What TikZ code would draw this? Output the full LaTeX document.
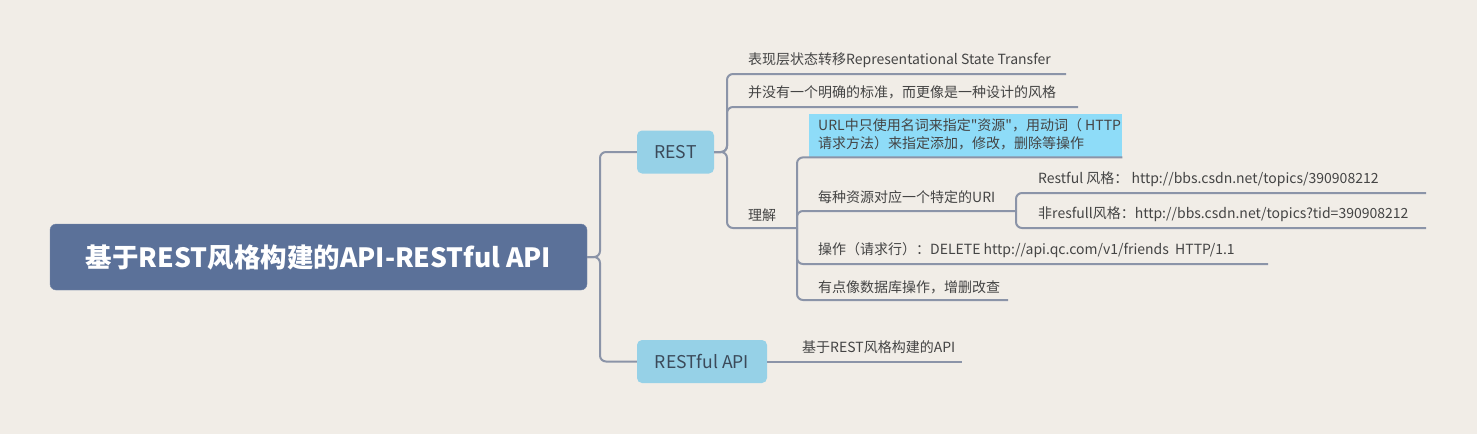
\documentclass[tikz,border=0pt]{standalone}
\usepackage{fontspec}
\setmainfont{Noto Sans CJK SC}
\newfontfamily\cjk{Noto Sans CJK SC}
\usetikzlibrary{calc}
\definecolor{bg}{HTML}{F1EDE7}
\definecolor{ln}{HTML}{8B94A8}
\definecolor{tx}{HTML}{444444}
\definecolor{rootfill}{HTML}{5B7199}
\definecolor{subfill}{HTML}{96D1E7}
\definecolor{subtx}{HTML}{3B4A5A}
\definecolor{hlfill}{HTML}{8EDCF8}
\tikzset{
  conn/.style={draw=ln,line width=2pt,rounded corners=6pt},
  leaf/.style={anchor=west,inner sep=0pt,text=tx,font=\cjk\fontsize{14}{17}\selectfont},
  subnode/.style={fill=subfill,rounded corners=5pt,text=subtx,font=\cjk\fontsize{17.6}{21}\selectfont,inner sep=0pt},
}
\begin{document}
\begin{tikzpicture}[x=1pt,y=-1pt]
\useasboundingbox[fill=bg] (0,0) rectangle (1477,434);
% root
\node[fill=rootfill,draw=rootfill!85!white,rounded corners=6pt,minimum width=537pt,minimum height=66pt,inner sep=0pt,text=white,font=\cjk\bfseries\fontsize{26.5}{30}\selectfont] (root) at (318.5,257) {基于REST风格构建的API-RESTful API};
\node[subnode,minimum width=77pt,minimum height=43pt] (rest) at (675.5,152) {REST};
\node[subnode,minimum width=130pt,minimum height=43pt] (restful) at (702,361.5) {RESTful API};
% coordinates
\coordinate (j1) at (600,257);
\coordinate (j2) at (727,152);
\coordinate (e1) at (1066,74);
\coordinate (e2) at (1078,107);
\coordinate (j3) at (797,228);
\coordinate (e4) at (1016,211);
\coordinate (e5) at (1268,264);
\coordinate (e6) at (1008,300);
\coordinate (e7) at (1426,193);
\coordinate (e8) at (1426,228);
\coordinate (e9) at (962,361.5);
% highlight box
\node[fill=hlfill,anchor=north west,minimum width=313pt,minimum height=43pt,inner sep=0pt] (url) at (809,114) {};
% connectors
\draw[conn] (root.east) -- (j1) |- (rest.west);
\draw[conn] (root.east) -- (j1) |- (restful.west);
\draw[conn] (rest.east) -- (j2) |- (e1);
\draw[conn] (rest.east) -- (j2) |- (e2);
\draw[conn] (rest.east) -- (j2) |- (j3);
\draw[conn] (j3) |- (url.south east);
\draw[conn] (j3) |- (e4);
\draw[conn] (j3) |- (e5);
\draw[conn] (j3) |- (e6);
\draw[conn] (e4) |- (e7);
\draw[conn] (e4) |- (e8);
\draw[conn] (restful.east) -- (e9);
% texts
\node[leaf] (t1) at (748,60) {表现层状态转移Representational State Transfer};
\node[leaf] (t2) at (748,92) {并没有一个明确的标准，而更像是一种设计的风格};
\node[leaf] (t3) at (748,215) {理解};
\node[leaf] (u1) at (818,125) {URL中只使用名词来指定"资源"，用动词（ HTTP};
\node[leaf] (u2) at (818,143) {请求方法）来指定添加，修改，删除等操作};
\node[leaf] (t4) at (818,197) {每种资源对应一个特定的URI};
\node[leaf] (t5) at (1038,179) {Restful 风格： http://bbs.csdn.net/topics/390908212};
\node[leaf] (t6) at (1038,214) {非resfull风格：http://bbs.csdn.net/topics?tid=390908212};
\node[leaf] (t7) at (818,250) {操作（请求行）：DELETE http://api.qc.com/v1/friends\ \ HTTP/1.1};
\node[leaf] (t8) at (818,287) {有点像数据库操作，增删改查};
\node[leaf] (t9) at (802,347) {基于REST风格构建的API};
\end{tikzpicture}
\end{document}
